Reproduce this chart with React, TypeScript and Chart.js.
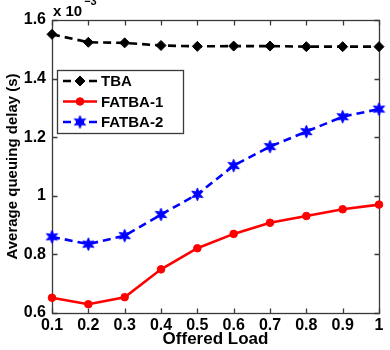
import React, { useEffect, useRef } from "react";
import { Chart, registerables } from "chart.js";

Chart.register(...registerables);

// Offered load on the x axis, delay values in units of 1e-3 s
const offeredLoad = [0.1, 0.2, 0.3, 0.4, 0.5, 0.6, 0.7, 0.8, 0.9, 1];
const tbaDelay = [1.551, 1.524, 1.522, 1.513, 1.51, 1.511, 1.511, 1.509, 1.509, 1.509];
const fatba1Delay = [0.652, 0.63, 0.654, 0.749, 0.821, 0.87, 0.908, 0.931, 0.954, 0.97];
const fatba2Delay = [0.86, 0.835, 0.864, 0.936, 1.005, 1.103, 1.168, 1.219, 1.27, 1.296];

const xTickValues = [0.1, 0.2, 0.3, 0.4, 0.5, 0.6, 0.7, 0.8, 0.9, 1];
const yTickValues = [0.6, 0.8, 1, 1.2, 1.4, 1.6];
const seriesNames = ["TBA", "FATBA-1", "FATBA-2"];
const xTitle = "Offered Load";
const yTitle = "Average queuing delay (s)";
const exponentBase = "x 10";
const exponentPower = "\u22123";

const FONT = '"Liberation Sans", Arial, Helvetica, sans-serif';
const FRAME = "#3a3a3a";

function makeStar(r: number, color: string): HTMLCanvasElement {
  const size = Math.ceil(r * 2 + 4);
  const c = document.createElement("canvas");
  c.width = size;
  c.height = size;
  const g = c.getContext("2d")!;
  const cx = size / 2;
  const cy = size / 2;
  g.beginPath();
  const points = 6;
  for (let i = 0; i < points * 2; i++) {
    const rr = i % 2 === 0 ? r : r * 0.45;
    const ang = -Math.PI / 2 + (i * Math.PI) / points;
    const px = cx + rr * Math.cos(ang);
    const py = cy + rr * Math.sin(ang);
    if (i === 0) g.moveTo(px, py);
    else g.lineTo(px, py);
  }
  g.closePath();
  g.fillStyle = color;
  g.fill();
  g.lineWidth = 1;
  g.strokeStyle = color;
  g.stroke();
  return c;
}

const fmt = (v: number) => String(Number(v.toFixed(1)));

function drawMarker(ctx: CanvasRenderingContext2D, ds: any, x: number, y: number) {
  const style = ds.pointStyle;
  const r = ds.pointRadius;
  ctx.save();
  ctx.fillStyle = ds.pointBackgroundColor;
  ctx.strokeStyle = ds.pointBorderColor;
  ctx.lineWidth = 1;
  if (style instanceof HTMLCanvasElement) {
    ctx.drawImage(style, x - style.width / 2, y - style.height / 2);
  } else if (style === "rectRot") {
    ctx.beginPath();
    ctx.moveTo(x, y - r);
    ctx.lineTo(x + r, y);
    ctx.lineTo(x, y + r);
    ctx.lineTo(x - r, y);
    ctx.closePath();
    ctx.fill();
    ctx.stroke();
  } else {
    ctx.beginPath();
    ctx.arc(x, y, r, 0, Math.PI * 2);
    ctx.fill();
    ctx.stroke();
  }
  ctx.restore();
}

// Box frame with inward tick marks on all four sides
const framePlugin = {
  id: "frame",
  beforeDatasetsDraw(chart: any) {
    const { ctx, chartArea: a, scales } = chart;
    const L = Math.round(a.left) + 0.5;
    const R = Math.round(a.right) + 0.5;
    const T = Math.round(a.top) + 0.5;
    const B = Math.round(a.bottom) + 0.5;
    const tl = 5;
    ctx.save();
    ctx.strokeStyle = FRAME;
    ctx.lineWidth = 1.3;
    ctx.strokeRect(L, T, R - L, B - T);
    ctx.beginPath();
    xTickValues.forEach((v) => {
      const x = Math.round(scales.x.getPixelForValue(v)) + 0.5;
      ctx.moveTo(x, B);
      ctx.lineTo(x, B - tl);
      ctx.moveTo(x, T);
      ctx.lineTo(x, T + tl);
    });
    yTickValues.forEach((v) => {
      const y = Math.round(scales.y.getPixelForValue(v)) + 0.5;
      ctx.moveTo(L, y);
      ctx.lineTo(L + tl, y);
      ctx.moveTo(R, y);
      ctx.lineTo(R - tl, y);
    });
    ctx.stroke();
    ctx.restore();
  },
  afterDraw(chart: any) {
    const { ctx, chartArea: a } = chart;
    ctx.save();
    // exponent label above the y axis
    ctx.fillStyle = "#000";
    ctx.textBaseline = "alphabetic";
    ctx.textAlign = "left";
    ctx.font = `bold 15px ${FONT}`;
    ctx.fillText(exponentBase, a.left + 1, 16);
    const w = ctx.measureText(exponentBase).width;
    ctx.font = `bold 11px ${FONT}`;
    ctx.fillText(exponentPower, a.left + 3 + w, 5);

    // legend
    const bx = 57.5, by = 70.5, bw = 126, bh = 63;
    ctx.fillStyle = "#fff";
    ctx.fillRect(bx, by, bw, bh);
    ctx.strokeStyle = FRAME;
    ctx.lineWidth = 1.3;
    ctx.strokeRect(bx, by, bw, bh);
    const rows = [81, 101.5, 122];
    chart.data.datasets.forEach((ds: any, i: number) => {
      const y = rows[i];
      ctx.save();
      ctx.strokeStyle = ds.borderColor;
      ctx.lineWidth = ds.borderWidth;
      ctx.setLineDash(ds.borderDash || []);
      ctx.beginPath();
      ctx.moveTo(63, y);
      ctx.lineTo(97, y);
      ctx.stroke();
      ctx.restore();
      drawMarker(ctx, ds, 80, y);
      ctx.fillStyle = "#000";
      ctx.font = `bold 15px ${FONT}`;
      ctx.textBaseline = "middle";
      ctx.textAlign = "left";
      ctx.fillText(ds.label, 101, y + 1);
    });
    ctx.restore();
  },
};

export default function App() {
  const ref = useRef<HTMLCanvasElement | null>(null);

  useEffect(() => {
    document.body.style.margin = "0";
    const canvas = ref.current;
    if (!canvas) return;
    const star = makeStar(6.5, "#0000ff");
    const toPts = (ys: number[]) => offeredLoad.map((x, i) => ({ x, y: ys[i] }));

    const chart = new Chart(canvas, {
      type: "line",
      data: {
        datasets: [
          {
            label: seriesNames[0],
            data: toPts(tbaDelay),
            borderColor: "#000000",
            backgroundColor: "#000000",
            borderWidth: 2.6,
            borderDash: [8, 5],
            pointStyle: "rectRot",
            pointRadius: 5,
            pointBackgroundColor: "#000000",
            pointBorderColor: "#000000",
            pointBorderWidth: 1,
            clip: false,
          } as any,
          {
            label: seriesNames[1],
            data: toPts(fatba1Delay),
            borderColor: "#ff0000",
            backgroundColor: "#ff0000",
            borderWidth: 2.6,
            pointStyle: "circle",
            pointRadius: 3.8,
            pointBackgroundColor: "#ff0000",
            pointBorderColor: "#ff0000",
            pointBorderWidth: 1,
            clip: false,
          } as any,
          {
            label: seriesNames[2],
            data: toPts(fatba2Delay),
            borderColor: "#0000ff",
            backgroundColor: "#0000ff",
            borderWidth: 2.6,
            borderDash: [8, 5],
            pointStyle: star,
            pointRadius: 6,
            pointBackgroundColor: "#0000ff",
            pointBorderColor: "#0000ff",
            pointBorderWidth: 1,
            clip: false,
          } as any,
        ],
      },
      options: {
        responsive: false,
        animation: false,
        layout: { padding: { top: 20, right: 11, left: 0, bottom: 0 } },
        plugins: { legend: { display: false }, tooltip: { enabled: false } },
        scales: {
          x: {
            type: "linear",
            min: 0.1,
            max: 1,
            afterBuildTicks: (s: any) => {
              s.ticks = xTickValues.map((value) => ({ value }));
            },
            afterFit: (s: any) => {
              s.height = 37;
            },
            grid: { display: false, drawTicks: false },
            border: { display: false },
            ticks: {
              color: "#000",
              font: { family: FONT, size: 16, weight: "bold" },
              padding: 3,
              maxRotation: 0,
              autoSkip: false,
              callback: (v: any) => fmt(Number(v)),
            },
            title: {
              display: true,
              text: xTitle,
              color: "#000",
              font: { family: FONT, size: 17, weight: "bold" },
              padding: { top: 0, bottom: 0 },
            },
          },
          y: {
            type: "linear",
            min: 0.6,
            max: 1.6,
            afterBuildTicks: (s: any) => {
              s.ticks = yTickValues.map((value) => ({ value }));
            },
            afterFit: (s: any) => {
              s.width = 52;
            },
            grid: { display: false, drawTicks: false },
            border: { display: false },
            ticks: {
              color: "#000",
              font: { family: FONT, size: 16, weight: "bold" },
              padding: 6,
              autoSkip: false,
              callback: (v: any) => fmt(Number(v)),
            },
            title: {
              display: true,
              text: yTitle,
              color: "#000",
              font: { family: FONT, size: 15, weight: "bold" },
              padding: { top: 4, bottom: 0 },
            },
          },
        },
      } as any,
      plugins: [framePlugin],
    });

    return () => chart.destroy();
  }, []);

  return <canvas ref={ref} width={390} height={350} style={{ display: "block" }} />;
}
